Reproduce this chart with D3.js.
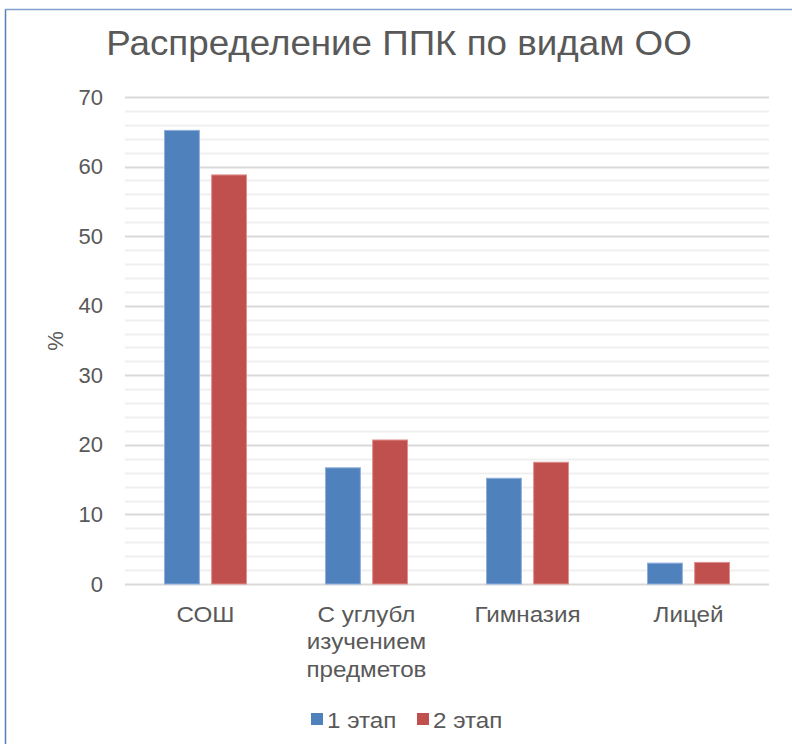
<!DOCTYPE html>
<html>
<head>
<meta charset="utf-8">
<script src="https://cdn.jsdelivr.net/npm/d3@7"></script>
<style>
  body { margin: 0; background: #fff; }
  text { font-family: "Liberation Sans", Arial, sans-serif; fill: #595959; }
</style>
</head>
<body>
<div id="chart"></div>
<script>
// chart data
const categories = ['СОШ', 'С углубл изучением предметов', 'Гимназия', 'Лицей'];
const categoryLines = [['СОШ'], ['С углубл', 'изучением', 'предметов'], ['Гимназия'], ['Лицей']];
const seriesNames = ['1 этап', '2 этап'];
const stage1 = [65.2, 16.7, 15.2, 3.0];
const stage2 = [58.8, 20.7, 17.5, 3.1];
const yTicks = [0, 10, 20, 30, 40, 50, 60, 70];
const colors = ['#4f81bd', '#c0504d'];

const width = 792, height = 744;
const plot = { left: 125, right: 769, top: 97, bottom: 584 };
const stretch = 1.1; // the source font renders a bit wider than Liberation Sans

const svg = d3.select('#chart')
  .append('svg')
  .attr('width', width)
  .attr('height', height);

// frame (only left and top edges are visible in the screenshot)
svg.append('line')
  .attr('x1', 5.5).attr('x2', 5.5).attr('y1', 9).attr('y2', height)
  .attr('stroke', '#4f81bd').attr('stroke-width', 1.5);
svg.append('line')
  .attr('x1', 5).attr('x2', width).attr('y1', 9.5).attr('y2', 9.5)
  .attr('stroke', '#7f9fcf').attr('stroke-width', 1.5);

const x = d3.scaleBand()
  .domain(categories)
  .range([plot.left, plot.right]);

const x1 = d3.scaleBand()
  .domain(seriesNames)
  .range([x.bandwidth() / 2 - 41, x.bandwidth() / 2 + 41])
  .paddingInner(0.26);

const y = d3.scaleLinear()
  .domain([0, 70])
  .range([plot.bottom, plot.top]);

// minor gridlines
svg.append('g')
  .selectAll('line')
  .data(d3.range(0, 71, 2).filter(v => v % 10 !== 0))
  .enter()
  .append('line')
  .attr('x1', plot.left).attr('x2', plot.right)
  .attr('y1', d => Math.round(y(d)) + 0.5).attr('y2', d => Math.round(y(d)) + 0.5)
  .attr('stroke', '#f0f0f0').attr('stroke-width', 2);

// major gridlines
svg.append('g')
  .selectAll('line')
  .data(yTicks)
  .enter()
  .append('line')
  .attr('x1', plot.left).attr('x2', plot.right)
  .attr('y1', d => Math.round(y(d)) + 0.5).attr('y2', d => Math.round(y(d)) + 0.5)
  .attr('stroke', '#d9d9d9').attr('stroke-width', 2);

// y axis labels
const yAxis = svg.append('g')
  .attr('transform', `translate(${plot.left}, 0)`)
  .call(d3.axisLeft(y).tickValues(yTicks).tickSize(0).tickPadding(22));
yAxis.select('.domain').remove();
yAxis.selectAll('text')
  .style('font-size', '22px')
  .style('font-family', '"Liberation Sans", Arial, sans-serif')
  .attr('fill', '#595959');

// bars
const series = [stage1, stage2];
series.forEach((vals, si) => {
  svg.append('g')
    .selectAll('rect')
    .data(vals)
    .enter()
    .append('rect')
    .attr('x', (d, i) => x(categories[i]) + x1(seriesNames[si]))
    .attr('y', d => y(d))
    .attr('width', x1.bandwidth())
    .attr('height', d => y(0) - y(d))
    .attr('fill', colors[si])
    .attr('stroke', si === 0 ? '#8eaedb' : '#e0918f')
    .attr('stroke-width', 1);
});

// x axis labels
categoryLines.forEach((lines, i) => {
  const cx = x(categories[i]) + x.bandwidth() / 2;
  const t = svg.append('g')
    .attr('transform', `translate(${cx}, 622) scale(${stretch}, 1)`)
    .append('text')
    .attr('text-anchor', 'middle')
    .style('font-size', '22px');
  lines.forEach((ln, k) => {
    t.append('tspan')
      .attr('x', 0)
      .attr('y', k * 27.5)
      .text(ln);
  });
});

// y axis title
svg.append('text')
  .attr('transform', 'translate(63, 341) rotate(-90)')
  .attr('text-anchor', 'middle')
  .style('font-size', '22px')
  .text('%');

// title
svg.append('g')
  .attr('transform', 'translate(399, 55) scale(1.05, 1)')
  .append('text')
  .attr('text-anchor', 'middle')
  .style('font-size', '35px')
  .text('Распределение ППК по видам ОО');

// legend
const legendX = [311, 417];
seriesNames.forEach((name, i) => {
  svg.append('rect')
    .attr('x', legendX[i]).attr('y', 713)
    .attr('width', 12).attr('height', 12)
    .attr('fill', colors[i]);
  svg.append('g')
    .attr('transform', `translate(${legendX[i] + 16}, 728) scale(${stretch}, 1)`)
    .append('text')
    .style('font-size', '22px')
    .text(name);
});
</script>
</body>
</html>
